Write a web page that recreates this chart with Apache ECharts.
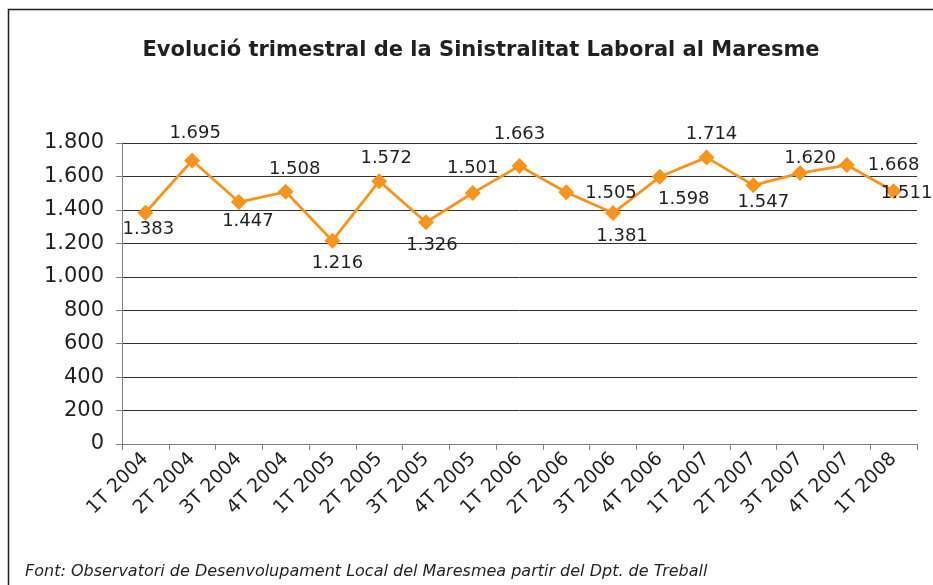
<!DOCTYPE html>
<html>
<head>
<meta charset="utf-8">
<title>Sinistralitat Laboral al Maresme</title>
<script src="https://cdn.jsdelivr.net/npm/echarts@6/dist/echarts.min.js"></script>
<style>
  html, body { margin: 0; padding: 0; background: #fff; }
  #chart { width: 933px; height: 585px; }
</style>
</head>
<body>
<div id="chart"></div>
<script>
var quarters = ['1T 2004', '2T 2004', '3T 2004', '4T 2004', '1T 2005', '2T 2005', '3T 2005', '4T 2005',
    '1T 2006', '2T 2006', '3T 2006', '4T 2006', '1T 2007', '2T 2007', '3T 2007', '4T 2007', '1T 2008'];
var accidents = [1383, 1695, 1447, 1508, 1216, 1572, 1326, 1501, 1663, 1505, 1381, 1598, 1714, 1547, 1620, 1668, 1511];
var yTicks = [0, 200, 400, 600, 800, 1000, 1200, 1400, 1600, 1800];

// where each value label sits round its point, and a small nudge [dx, dy]
var labelPos = ['bottom', 'top', 'bottom', 'top', 'bottom', 'top', 'bottom', 'top',
    'top', 'right', 'bottom', 'bottom', 'top', 'bottom', 'top', 'right', 'inside'];
var labelNudge = [[3, -2], [3, -2], [9, 0], [9, 2], [5, 4], [7, 2], [6, 4], [0, 0],
    [0, -7], [0, 1], [9, 4], [24, 4], [5, 2], [10, -2], [10, 10], [2, 0], [13, 2]];

function fmt(v) {
    var s = String(v);
    if (s.length > 3) {
        s = s.slice(0, s.length - 3) + '.' + s.slice(s.length - 3);
    }
    return s;
}

var seriesData = accidents.map(function(v, i) {
    var pos = labelPos[i];
    var label = { position: pos, offset: labelNudge[i] };
    if (pos === 'top') label.distance = 8;
    if (pos === 'bottom') label.distance = 2;
    if (pos === 'right') label.distance = 11;
    return { value: v, label: label };
});

var myChart = echarts.init(document.getElementById('chart'));

var option = {
    animation: false,
    textStyle: { fontFamily: 'DejaVu Sans' },
    title: {
        text: 'Evolució trimestral de la Sinistralitat Laboral al Maresme',
        left: 476,
        textAlign: 'center',
        top: 35,
        textStyle: {
            fontFamily: 'DejaVu Sans',
            fontSize: 21,
            fontWeight: 'bold',
            color: '#231f20'
        }
    },
    grid: {
        left: 122,
        right: 16,
        top: 143,
        bottom: 141,
        containLabel: false
    },
    xAxis: {
        type: 'category',
        data: quarters,
        boundaryGap: true,
        axisLine: { lineStyle: { color: '#808080', width: 1 } },
        axisTick: { show: true, length: 6, lineStyle: { color: '#808080' } },
        axisLabel: {
            rotate: 45,
            interval: 0,
            margin: 12,
            fontSize: 19,
            color: '#231f20',
            fontFamily: 'DejaVu Sans'
        }
    },
    yAxis: {
        type: 'value',
        min: yTicks[0],
        max: yTicks[yTicks.length - 1],
        interval: 200,
        axisLine: { show: true, lineStyle: { color: '#808080', width: 1 } },
        axisTick: { show: true, length: 6, lineStyle: { color: '#808080' } },
        splitLine: { show: true, lineStyle: { color: '#333333', width: 1 } },
        axisLabel: {
            fontSize: 21,
            margin: 18,
            color: '#231f20',
            fontFamily: 'DejaVu Sans',
            formatter: function(v) { return fmt(v); }
        }
    },
    series: [
        {
            name: 'Sinistralitat',
            type: 'line',
            data: seriesData,
            symbol: 'diamond',
            symbolSize: 16,
            itemStyle: { color: '#f7941d' },
            lineStyle: { color: '#f7941d', width: 2.8 },
            label: {
                show: true,
                fontSize: 18,
                color: '#231f20',
                fontFamily: 'DejaVu Sans',
                formatter: function(p) { return fmt(p.value); }
            }
        }
    ],
    graphic: [
        {
            type: 'rect',
            shape: { x: 8.5, y: 9.5, width: 1000, height: 700 },
            style: { fill: 'none', stroke: '#231f20', lineWidth: 1.5 },
            silent: true,
            z: -1
        },
        {
            type: 'text',
            left: 25,
            top: 564,
            style: {
                text: 'Font: Observatori de Desenvolupament Local del Maresmea partir del Dpt. de Treball',
                font: 'italic 16px "DejaVu Sans"',
                fill: '#231f20'
            }
        }
    ]
};

myChart.setOption(option);
</script>
</body>
</html>
